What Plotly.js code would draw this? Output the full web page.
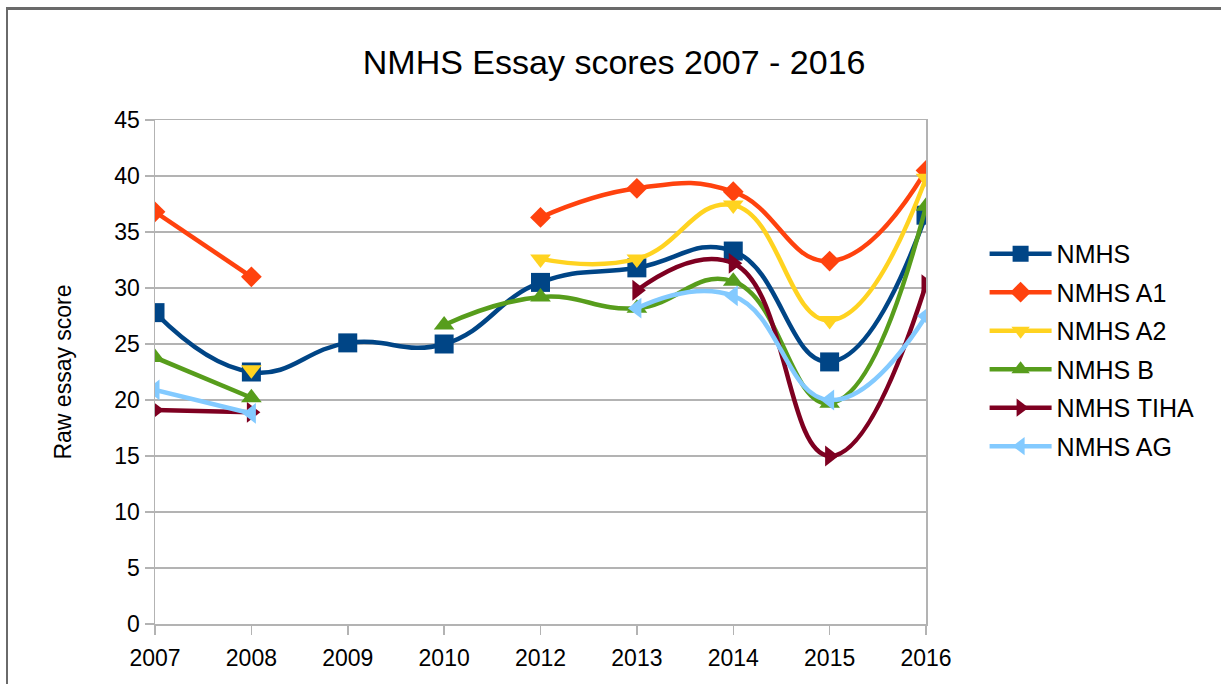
<!DOCTYPE html>
<html>
<head>
<meta charset="utf-8">
<script src="https://cdn.plot.ly/plotly-3.0.1.min.js"></script>
<style>
  html, body { margin: 0; padding: 0; background: #fff; }
  #wrap { position: relative; width: 1221px; height: 684px; overflow: hidden; }
  #chart { position: absolute; left: 0; top: 0; width: 1221px; height: 684px; }
  #frame { position: absolute; left: 6px; top: 7px; width: 1230px; height: 700px;
           border-top: 3px solid #6a6a6a; border-left: 2px solid #6a6a6a; pointer-events: none; }
</style>
</head>
<body>
<div id="wrap">
  <div id="chart"></div>
  <div id="frame"></div>
</div>
<script>
const years = ['2007', '2008', '2009', '2010', '2012', '2013', '2014', '2015', '2016'];

const nmhs   = [27.8, 22.5, 25.1, 25.0, 30.5, 31.8, 33.3, 23.4, 36.5];
const nmhsA1 = [36.8, 31.0, null, null, 36.3, 38.9, 38.6, 32.4, 40.5];
const nmhsA2 = [null, 22.7, null, null, 32.6, 32.6, 37.4, 27.1, 39.8];
const nmhsB  = [23.8, 20.2, null, 26.7, 29.2, 28.2, 30.6, 19.7, 37.3];
const nmhsTIHA = [19.1, 18.9, null, null, null, 29.8, 32.2, 15.0, 30.3];
const nmhsAG = [20.9, 18.8, null, null, null, 28.2, 29.3, 20.0, 27.5];

const seriesNames = ['NMHS', 'NMHS A1', 'NMHS A2', 'NMHS B', 'NMHS TIHA', 'NMHS AG'];
const seriesData = [nmhs, nmhsA1, nmhsA2, nmhsB, nmhsTIHA, nmhsAG];
const seriesColors = ['#004586', '#ff420e', '#ffd320', '#579d1c', '#7e0021', '#83caff'];
const seriesSymbols = ['square', 'diamond', 'triangle-down', 'triangle-up', 'triangle-right', 'triangle-left'];
const seriesSizes = [19, 16, 18, 18, 18, 18];

const traces = seriesNames.map((name, i) => ({
  type: 'scatter',
  mode: 'lines+markers',
  name: name,
  legendgroup: 'g' + i,
  x: years,
  y: seriesData[i],
  connectgaps: false,
  line: { color: seriesColors[i], width: 4.5, shape: 'spline', smoothing: 1.3 },
  marker: { color: seriesColors[i], symbol: seriesSymbols[i], size: seriesSizes[i] }
}));

const layout = {
  width: 1221,
  height: 684,
  paper_bgcolor: '#ffffff',
  plot_bgcolor: '#ffffff',
  font: { family: 'Liberation Sans, Arial, sans-serif', color: '#000000', size: 23 },
  margin: { l: 155, r: 295, t: 120, b: 60 },
  title: {
    text: 'NMHS Essay scores 2007 - 2016',
    font: { size: 34, family: 'Liberation Sans, Arial, sans-serif', color: '#000' },
    x: 0.503, xref: 'container', xanchor: 'center',
    y: 0.909, yref: 'container', yanchor: 'middle'
  },
  xaxis: {
    type: 'category',
    range: [0, 8],
    showgrid: false,
    zeroline: false,
    showline: true,
    mirror: true,
    linecolor: '#b3b3b3',
    linewidth: 1.5,
    ticks: 'outside',
    ticklen: 9,
    tickcolor: '#b3b3b3',
    tickwidth: 1.5,
    ticklabelstandoff: 4,
    tickfont: { size: 23 }
  },
  yaxis: {
    range: [0, 45],
    dtick: 5,
    tick0: 0,
    showgrid: true,
    gridcolor: '#b3b3b3',
    gridwidth: 1.5,
    zeroline: false,
    showline: true,
    mirror: true,
    linecolor: '#b3b3b3',
    linewidth: 1.5,
    ticks: 'outside',
    ticklen: 9,
    tickcolor: '#b3b3b3',
    tickwidth: 1.5,
    tickfont: { size: 23 },
    title: { text: 'Raw essay score', font: { size: 23 }, standoff: 36 }
  },
  showlegend: true,
  legend: {
    x: 1.076,
    xanchor: 'left',
    y: 0.78,
    yanchor: 'top',
    font: { size: 25 },
    itemwidth: 62,
    tracegroupgap: 3,
    bgcolor: 'rgba(0,0,0,0)'
  }
};

Plotly.newPlot('chart', traces, layout, { displayModeBar: false, staticPlot: true });
</script>
</body>
</html>
